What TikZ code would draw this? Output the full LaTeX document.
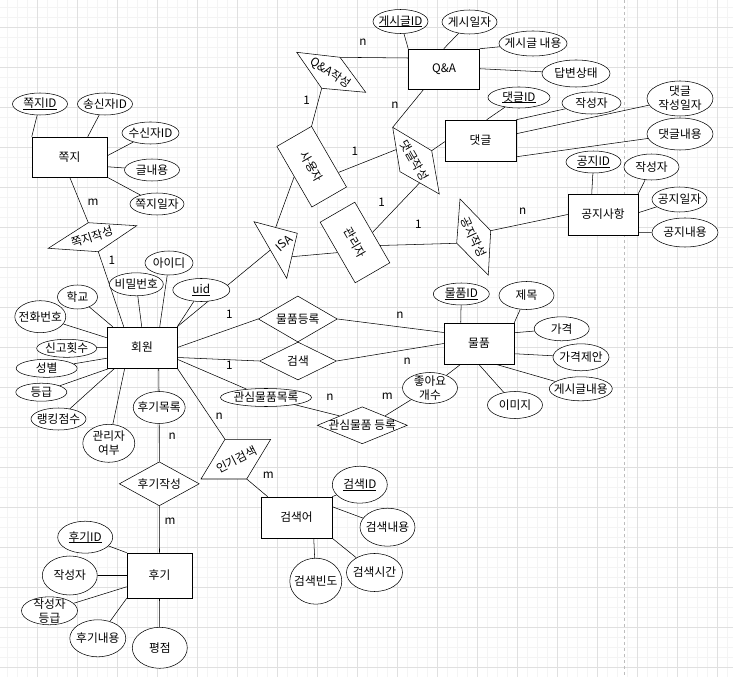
\documentclass[tikz,border=0pt]{standalone}
\usepackage{fontspec}
\setmainfont{Noto Sans CJK KR}
\usetikzlibrary{shapes.geometric,calc}
\newdimen\pxu \pxu=0.75pt
\pgfdeclarelayer{gridlayer}
\pgfdeclarelayer{linelayer}
\pgfsetlayers{gridlayer,linelayer,main}
\definecolor{minorg}{HTML}{F4F4F4}
\definecolor{majorg}{HTML}{E0E0E0}
\definecolor{pageb}{HTML}{BDBDBD}
\newcommand\fsz{\fontsize{8.8}{10.4}\selectfont}
\newcommand\ulx[1]{\setbox0\hbox{#1}\rlap{\rule[-1.3pt]{\wd0}{0.6pt}}\box0}
\newcommand\attrnode[6]{%
  \node[attr,minimum width=#4\pxu,minimum height=#5\pxu] (#1) at (#2,#3) {};
  \node[txt] (#1-t) at (#1) {#6};}
\newcommand\relnode[6]{%
  \node[rel,minimum width=#4\pxu,minimum height=#5\pxu] (#1) at (#2,#3) {};
  \node[txt] (#1-t) at (#1) {#6};}
\begin{document}
\begin{tikzpicture}[x=0.75pt,y=-0.75pt,line width=0.75pt,
  ent/.style={draw,fill=white,rectangle,inner sep=0pt,font=\fsz},
  attr/.style={draw,fill=white,ellipse,inner sep=0pt},
  rel/.style={draw,fill=white,diamond,inner sep=0pt},
  poly/.style={draw,fill=white,line join=miter},
  txt/.style={inner sep=0pt,align=center,font=\fsz},
  card/.style={inner sep=0pt,font=\fsz}]
\useasboundingbox (0,0) rectangle (733,677);
\begin{pgfonlayer}{gridlayer}
\fill[white] (0,0) rectangle (733,677);
\foreach \i in {0,...,72} {\draw[minorg] ({7.3+10*\i},0) -- ({7.3+10*\i},677);}
\foreach \i in {0,...,66} {\draw[minorg] (0,{7.3+10*\i}) -- (733,{7.3+10*\i});}
\foreach \i in {0,...,17} {\draw[majorg] ({37.3+40*\i},0) -- ({37.3+40*\i},677);}
\foreach \i in {0,...,16} {\draw[majorg] (0,{27.3+40*\i}) -- (733,{27.3+40*\i});}
\draw[pageb,dash pattern=on 3\pxu off 3\pxu] (624.3,0) -- (624.3,677);
\end{pgfonlayer}

% entities
\node[ent,minimum width=75\pxu,minimum height=40\pxu] (jj) at (69.5,157) {쪽지};
\node[ent,minimum width=71\pxu,minimum height=40\pxu] (QA) at (444,69) {Q\&A};
\node[ent,minimum width=71\pxu,minimum height=41\pxu] (dg) at (480.5,140.5) {댓글};
\node[ent,minimum width=70\pxu,minimum height=41\pxu] (gj) at (603,214.5) {공지사항};
\node[ent,minimum width=70\pxu,minimum height=41\pxu] (hw) at (142,347.5) {회원};
\node[ent,minimum width=70\pxu,minimum height=41\pxu] (mp) at (479,343.5) {물품};
\node[ent,minimum width=65\pxu,minimum height=45\pxu] (hg) at (159.5,575.5) {후기};
\node[ent,minimum width=71\pxu,minimum height=41\pxu] (gs) at (296.5,517.5) {검색어};
\node[ent,rotate=-60,minimum width=70\pxu,minimum height=40\pxu] (user) at (311.7,166.7) {사용자};
\node[ent,rotate=-60,minimum width=70\pxu,minimum height=40\pxu] (admin) at (355,242.5) {관리자};

% polygon vertices
\coordinate (jjw1) at (88.3,222.7); \coordinate (jjw2) at (136.7,225.7);
\coordinate (jjw3) at (98.3,251.7); \coordinate (jjw4) at (48.3,248.3);
\coordinate (qaw1) at (296.7,52.3); \coordinate (qaw2) at (340,57.3);
\coordinate (qaw3) at (365.7,92.3); \coordinate (qaw4) at (321.7,88.3);
\coordinate (dgw1) at (392.7,127.3); \coordinate (dgw2) at (431.7,150.7);
\coordinate (dgw3) at (439.3,194); \coordinate (dgw4) at (400,171.7);
\coordinate (gjw1) at (460,199); \coordinate (gjw2) at (490.7,230.7);
\coordinate (gjw3) at (488.3,275); \coordinate (gjw4) at (456.7,243.3);
\coordinate (pop1) at (225,439.3); \coordinate (pop2) at (270.7,439.3);
\coordinate (pop3) at (246.7,479); \coordinate (pop4) at (201,479);
\coordinate (isa1) at (254,221.7); \coordinate (isa2) at (297.3,233.3);
\coordinate (isa3) at (286.7,278.3);

\draw[poly] (jjw1) -- (jjw2) -- (jjw3) -- (jjw4) -- cycle;
\draw[poly] (qaw1) -- (qaw2) -- (qaw3) -- (qaw4) -- cycle;
\draw[poly] (dgw1) -- (dgw2) -- (dgw3) -- (dgw4) -- cycle;
\draw[poly] (gjw1) -- (gjw2) -- (gjw3) -- (gjw4) -- cycle;
\draw[poly] (pop1) -- (pop2) -- (pop3) -- (pop4) -- cycle;
\draw[poly] (isa1) -- (isa2) -- (isa3) -- cycle;
\node[txt,rotate=18] (jjw) at (92,237) {쪽지작성};
\node[txt,rotate=-34] (qaw) at (330.5,73) {Q\&A작성};
\node[txt,rotate=-60] (dgw) at (414.5,160.5) {댓글작성};
\node[txt,rotate=-65] (gjw) at (473.5,237) {공지작성};
\node[txt,rotate=27] (pop) at (236.5,459.3) {인기검색};
\node[txt,rotate=42] (isa) at (284,243) {ISA};

% relationship diamonds
\relnode{reg}{297.8}{319}{79}{46}{물품등록}
\relnode{srch}{298}{361}{77}{38}{검색}
\relnode{fav}{362.3}{425.3}{90}{37}{관심물품 등록}
\relnode{rev}{159.3}{483.8}{80}{44}{후기작성}

% attributes
\attrnode{jjid}{40}{104}{55}{22}{\ulx{쪽지ID}}
\attrnode{jjsend}{105}{104}{55}{22}{송신자ID}
\attrnode{jjrecv}{150.5}{133}{57}{22}{수신자ID}
\attrnode{jjtext}{152}{170}{55}{22}{글내용}
\attrnode{jjdate}{157}{204}{54}{22}{쪽지일자}
\attrnode{qaid}{400.5}{21.5}{55}{24}{\ulx{게시글ID}}
\attrnode{qadate}{469.5}{22}{55}{24}{게시일자}
\attrnode{qatext}{533}{43.5}{68}{25}{게시글 내용}
\attrnode{qastat}{576}{73.5}{68}{27}{답변상태}
\attrnode{dgid}{519}{97.5}{62}{21}{\ulx{댓글ID}}
\attrnode{dgwr}{591.5}{103}{59}{22}{작성자}
\attrnode{dgdate}{680}{98.5}{66}{35}{댓글\\작성일자}
\attrnode{dgtext}{680}{134}{66}{32}{댓글내용}
\attrnode{gjid}{593.5}{162}{55}{22}{\ulx{공지ID}}
\attrnode{gjwr}{651.5}{167}{55}{26}{작성자}
\attrnode{gjdate}{679.5}{199.5}{55}{25}{공지일자}
\attrnode{gjtext}{685}{232.5}{66}{29}{공지내용}
\attrnode{hwid}{169}{263}{48}{24}{아이디}
\attrnode{hwpw}{136.3}{284.3}{54}{23}{비밀번호}
\attrnode{hwuid}{201.3}{290}{57}{23}{\ulx{uid}}
\attrnode{hwsch}{77.5}{297}{40}{24}{학교}
\attrnode{hwtel}{40.3}{316.7}{51}{32}{전화번호}
\attrnode{hwrep}{66.7}{348.3}{60}{18}{신고횟수}
\attrnode{hwsex}{46.7}{368.3}{61}{18}{성별}
\attrnode{hwgrd}{41.3}{392.2}{51}{18}{등급}
\attrnode{hwrank}{58.5}{419}{55}{22}{랭킹점수}
\attrnode{hwadm}{108.8}{443.3}{52}{38}{관리자\\여부}
\attrnode{hwrev}{159.2}{407.5}{52}{32}{후기목록}
\attrnode{hwfav}{266}{397.5}{91}{18}{관심물품목록}
\attrnode{mpid}{461.3}{294}{56}{22}{\ulx{물품ID}}
\attrnode{mptitle}{526.5}{295.5}{55}{28}{제목}
\attrnode{mpprice}{561.7}{328.8}{55}{24}{가격}
\attrnode{mpoffer}{581}{357.3}{56}{27}{가격제안}
\attrnode{mptext}{580.8}{388.8}{63}{24}{게시글내용}
\attrnode{mpimg}{515}{405}{55}{27}{이미지}
\attrnode{mplike}{430}{388}{55}{31}{좋아요\\개수}
\attrnode{hgid}{85.2}{537.2}{55}{32}{\ulx{후기ID}}
\attrnode{hgwr}{69.8}{575.5}{55}{39}{작성자}
\attrnode{hggrd}{49.5}{610.8}{56}{28}{작성자\\등급}
\attrnode{hgtext}{97.8}{638.3}{56}{37}{후기내용}
\attrnode{hgscore}{159.8}{647.8}{55}{41}{평점}
\attrnode{gsid}{359.8}{484.7}{55}{37}{\ulx{검색ID}}
\attrnode{gstext}{387.5}{527.2}{55}{38}{검색내용}
\attrnode{gstime}{374.5}{572.5}{56}{38}{검색시간}
\attrnode{gsfreq}{315.8}{581.2}{52}{46}{검색빈도}

% connectors
\begin{pgfonlayer}{linelayer}
\draw (jjid) -- (jj.north west);
\draw (jjsend) -- ($(jj.north west)+(56,0)$);
\draw (jjrecv) -- ($(jj.north east)+(0,19)$);
\draw (jjtext) -- ($(jj.north east)+(0,30)$);
\draw (jjdate) -- (jj.south east);
\draw ($(jj.south west)+(38,0)$) -- (jjw1);
\draw (jjw3) -- ($(hw.north west)+(17,0)$);
\draw (qaid) -- (QA.north west);
\draw (qadate) -- ($(QA.north west)+(35.5,0)$);
\draw (qatext) -- (QA.north east);
\draw (qastat) -- ($(QA.north east)+(0,20)$);
\draw ($(QA.west)+(0,-11)$) -- (qaw2);
\draw (qaw4) -- (user.north west);
\draw ($(QA.south west)+(15.5,0)$) -- (dgw1);
\draw ($(user.north)!0.52!(user.north east)$) -- ($(dgw1)!0.5!(dgw4)$);
\draw (dgw2) -- ($(dg.west)+(0,1.2)$);
\draw (dgid) -- ($(dg.north west)+(42,0)$);
\draw (dgwr) -- (dg.north east);
\draw (dgdate) -- ($(dg.north east)+(0,14)$);
\draw (dgtext) -- ($(dg.south east)+(0,-4.5)$);
\draw (gjid) -- ($(gj.north west)+(24,0)$);
\draw (gjwr) -- (gj.north east);
\draw (gjdate) -- ($(gj.north east)+(0,19)$);
\draw (gjtext) -- ($(gj.north east)+(0,39)$);
\draw (gjw2) -- (gj.west);
\draw ($(admin.north)!0.43!(admin.north east)$) -- (gjw4);
\draw ($(isa1)!0.5!(isa2)$) -- (user.south);
\draw ($(isa2)!0.52!(isa3)$) -- (admin.south);
\draw (admin.north) -- ($(dgw3)!0.5!(dgw4)$);
\draw ($(isa1)!0.5!(isa3)$) -- (hw.north east);
\draw (hwid) -- ($(hw.north west)+(53,0)$);
\draw (hwpw) -- ($(hw.north west)+(35,0)$);
\draw (hwuid) -- (hw.north east);
\draw (hwsch) -- ($(hw.north west)+(6,0)$);
\draw (hwtel) -- ($(hw.north west)+(0,11)$);
\draw (hwrep) -- (hw.west);
\draw (hwsex) -- ($(hw.south west)+(0,-10)$);
\draw (hwgrd) -- ($(hw.south west)+(3,0)$);
\draw (hwrank) -- ($(hw.south west)+(8,0)$);
\draw (hwadm) -- ($(hw.south west)+(18,0)$);
\draw (hwrev) -- ($(hw.south west)+(52,0)$);
\draw (hwrev) -- (rev.north);
\draw (hwfav) -- ($(hw.south east)+(0,-9)$);
\draw (hw.east) -- (reg.west);
\draw ($(hw.east)+(0,10)$) -- (srch.west);
\draw (hw.south east) -- (pop1);
\draw (reg.east) -- ($(mp.west)+(0,-11)$);
\draw (srch.east) -- (mp.west);
\draw (hwfav) -- ($(fav.west)!0.5!(fav.north)$);
\draw ($(fav.north)!0.5!(fav.east)$) -- (mplike);
\draw (mplike) -- ($(mp.south west)+(17,0)$);
\draw (mpid) -- ($(mp.north west)+(17,0)$);
\draw (mptitle) -- (mp.north east);
\draw (mpprice) -- ($(mp.north east)+(0,10)$);
\draw (mpoffer) -- ($(mp.north east)+(0,31)$);
\draw (mptext) -- ($(mp.south west)+(52,0)$);
\draw (mpimg) -- ($(mp.south west)+(35,0)$);
\draw (rev.south) -- (hg.north);
\draw (hgid) -- (hg.north west);
\draw (hgwr) -- (hg.west);
\draw (hggrd) -- ($(hg.south west)+(0,-11.5)$);
\draw (hgtext) -- (hg.south west);
\draw (hgscore) -- (hg.south);
\draw (pop3) -- ($(gs.north west)+(7,0)$);
\draw (gsid) -- (gs.north east);
\draw (gstext) -- ($(gs.north east)+(0,10)$);
\draw (gstime) -- (gs.south east);
\draw (gsfreq) -- ($(gs.south west)+(53,0)$);
\end{pgfonlayer}

% cardinalities
\node[card] (c1) at (93,202) {m};
\node[card] (c2) at (112,260) {1};
\node[card] (c3) at (363,42) {n};
\node[card] (c4) at (306.7,100) {1};
\node[card] (c5) at (395,105) {n};
\node[card] (c6) at (355,151) {1};
\node[card] (c7) at (381.7,202.7) {1};
\node[card] (c8) at (418.3,224) {1};
\node[card] (c9) at (522.7,211.7) {n};
\node[card] (c10) at (229.3,314.3) {1};
\node[card] (c11) at (400,315) {n};
\node[card] (c12) at (229.3,365.7) {1};
\node[card] (c13) at (407.3,361.7) {n};
\node[card] (c14) at (330,397.7) {n};
\node[card] (c15) at (387.3,396.7) {m};
\node[card] (c16) at (219.3,416) {n};
\node[card] (c17) at (268.3,475) {m};
\node[card] (c18) at (172.3,436.7) {n};
\node[card] (c19) at (170,521.7) {m};
\end{tikzpicture}
\end{document}
